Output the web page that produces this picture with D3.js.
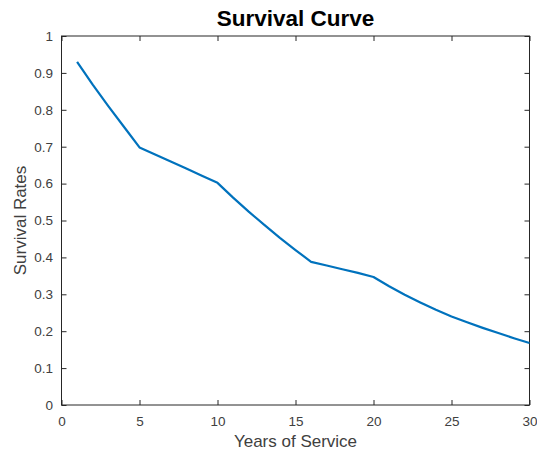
<!DOCTYPE html>
<meta charset="utf-8">
<style>
  body { margin: 0; background: #fff; }
  text { font-family: "Liberation Sans", Arial, sans-serif; }
</style>
<body>
<div id="chart"></div>
</body>
<script src="https://cdn.jsdelivr.net/npm/d3@7"></script>
<script>
  const years = [1, 2, 3, 4, 5, 6, 7, 8, 9, 10, 11, 12, 13, 14, 15, 16, 17, 18, 19, 20,
    21, 22, 23, 24, 25, 26, 27, 28, 29, 30];
  const rates = [0.930, 0.868, 0.810, 0.754, 0.698, 0.679, 0.660, 0.641, 0.621, 0.602,
    0.562, 0.524, 0.488, 0.453, 0.420, 0.388, 0.378, 0.368, 0.358, 0.347,
    0.322, 0.299, 0.278, 0.258, 0.240, 0.224, 0.209, 0.195, 0.181, 0.168];
  const xTicks = [0, 5, 10, 15, 20, 25, 30];
  const yTicks = [0, 0.1, 0.2, 0.3, 0.4, 0.5, 0.6, 0.7, 0.8, 0.9, 1];

  const width = 537, height = 453,
      margin = {top: 36, right: 7.5, bottom: 48, left: 61.5},
      axisColor = "#262626",
      labelColor = "#404040";

  const svg = d3.select("#chart").append("svg")
      .attr("width", width)
      .attr("height", height);

  const x = d3.scaleLinear().domain([0, 30]).range([margin.left, width - margin.right]);
  const y = d3.scaleLinear().domain([0, 1]).range([height - margin.bottom, margin.top]);

  function styleAxis(g) {
      g.select(".domain").remove();
      g.selectAll(".tick line").attr("stroke", axisColor);
      g.selectAll(".tick text")
          .attr("fill", labelColor)
          .style("font-size", "13.5px");
  }

  // bottom + top ticks (inward)
  svg.append("g")
      .attr("transform", `translate(0,${y(0)})`)
      .call(d3.axisBottom(x).tickValues(xTicks).tickSize(-5).tickPadding(11).tickFormat(d3.format("d")))
      .call(styleAxis);
  svg.append("g")
      .attr("transform", `translate(0,${y(1)})`)
      .call(d3.axisTop(x).tickValues(xTicks).tickSize(-5).tickFormat(""))
      .call(styleAxis);

  // left + right ticks (inward)
  svg.append("g")
      .attr("transform", `translate(${x(0)},0)`)
      .call(d3.axisLeft(y).tickValues(yTicks).tickSize(-5).tickPadding(8.5).tickFormat(d => String(+d.toFixed(1))))
      .call(styleAxis);
  svg.append("g")
      .attr("transform", `translate(${x(30)},0)`)
      .call(d3.axisRight(y).tickValues(yTicks).tickSize(-5).tickFormat(""))
      .call(styleAxis);

  // box
  svg.append("rect")
      .attr("x", x(0))
      .attr("y", y(1))
      .attr("width", x(30) - x(0))
      .attr("height", y(0) - y(1))
      .attr("fill", "none")
      .attr("stroke", axisColor)
      .attr("stroke-width", 1);

  const line = d3.line()
      .x((d, i) => x(years[i]))
      .y(d => y(d));

  svg.append("path")
      .datum(rates)
      .attr("d", line)
      .attr("fill", "none")
      .attr("stroke", "#0072BD")
      .attr("stroke-width", 2.2)
      .attr("stroke-linejoin", "round");

  svg.append("text")
      .attr("x", (x(0) + x(30)) / 2)
      .attr("y", 26)
      .attr("text-anchor", "middle")
      .style("font-size", "22.5px")
      .style("font-weight", "bold")
      .attr("fill", "#000")
      .text("Survival Curve");

  svg.append("text")
      .attr("x", (x(0) + x(30)) / 2)
      .attr("y", 447)
      .attr("text-anchor", "middle")
      .style("font-size", "17px")
      .attr("fill", labelColor)
      .text("Years of Service");

  svg.append("text")
      .attr("transform", `translate(26,${(y(0) + y(1)) / 2}) rotate(-90)`)
      .attr("text-anchor", "middle")
      .style("font-size", "17px")
      .attr("fill", labelColor)
      .text("Survival Rates");
</script>
